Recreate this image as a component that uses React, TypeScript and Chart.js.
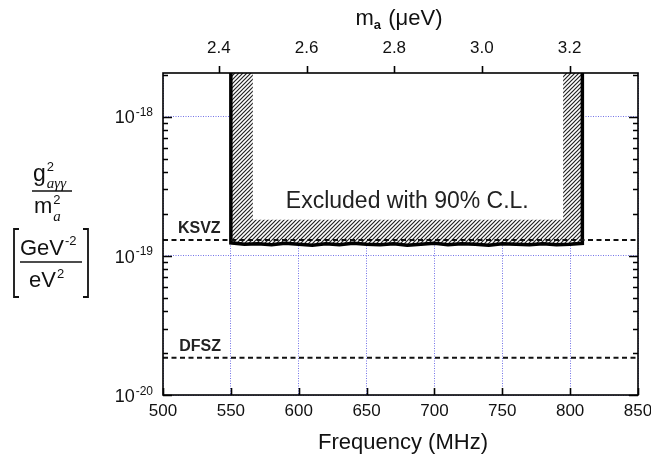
import React, { useEffect, useRef } from 'react';
import { Chart, registerables } from 'chart.js';

Chart.register(...registerables);

const FONT = '"Liberation Sans", Arial, Helvetica, sans-serif';
const SERIF = '"Liberation Serif", "Times New Roman", serif';

// axes
const FREQ_MIN = 500;
const FREQ_MAX = 850;
const FREQ_TICKS = [500, 550, 600, 650, 700, 750, 800, 850];
const MASS_MIN = 2.2725;
const MASS_MAX = 3.356;
const MASS_TICKS = [2.4, 2.6, 2.8, 3.0, 3.2];
const Y_MIN = 1e-20;
const Y_MAX = 2.06e-18;
const Y_DECADES = [-20, -19, -18];

// exclusion limit (90% C.L.)
const LIMIT_FREQ = [550, 560, 570, 580, 590, 600, 610, 620, 630, 640, 650, 660, 670, 680, 690, 700, 710, 720, 730, 740, 750, 760, 770, 780, 790, 800, 809];
const LIMIT_G2 = [1.24e-19, 1.21e-19, 1.22e-19, 1.2e-19, 1.23e-19, 1.21e-19, 1.19e-19, 1.22e-19, 1.2e-19, 1.23e-19, 1.21e-19, 1.2e-19, 1.22e-19, 1.19e-19, 1.21e-19, 1.23e-19, 1.2e-19, 1.22e-19, 1.21e-19, 1.19e-19, 1.22e-19, 1.21e-19, 1.2e-19, 1.22e-19, 1.2e-19, 1.21e-19, 1.23e-19];

// inner (non-hatched) part of the excluded region
const INNER_FREQ = [566, 795];
const INNER_G2 = 1.82e-19;

// model lines
const KSVZ = 1.3e-19;
const DFSZ = 1.85e-20;

// annotation anchors (data units)
const EXCL_LABEL = { x: 680, y: 2.2e-19, text: 'Excluded with 90% C.L.' };
const KSVZ_LABEL = { x: 511, y: 1.46e-19, text: 'KSVZ' };
const DFSZ_LABEL = { x: 512, y: 2.07e-20, text: 'DFSZ' };

const GRID_COLOR = 'rgba(100, 100, 230, 0.9)';

function txt(ctx: CanvasRenderingContext2D, s: string, x: number, y: number, font: string, align: CanvasTextAlign = 'left', color = '#111') {
  ctx.font = font;
  ctx.textAlign = align;
  ctx.textBaseline = 'alphabetic';
  ctx.fillStyle = color;
  ctx.fillText(s, x, y);
  return ctx.measureText(s).width;
}

const decorPlugin = {
  id: 'decor',
  afterDraw(chart: any) {
    const ctx: CanvasRenderingContext2D = chart.ctx;
    const { left, right, top, bottom } = chart.chartArea;
    const xs = chart.scales.x;
    const ys = chart.scales.y;
    const x2 = chart.scales.x2;
    ctx.save();

    // frame
    ctx.strokeStyle = '#000';
    ctx.lineWidth = 1.6;
    ctx.setLineDash([]);
    ctx.strokeRect(left, top, right - left, bottom - top);

    // y ticks (inward, both sides)
    ctx.lineWidth = 1.6;
    ctx.beginPath();
    for (const d of Y_DECADES) {
      for (let k = 1; k <= 9; k++) {
        const v = k * Math.pow(10, d);
        if (v < Y_MIN * 0.999 || v > Y_MAX) continue;
        const py = Math.round(ys.getPixelForValue(v)) + 0.5;
        const len = k === 1 ? 9 : 5;
        ctx.moveTo(left, py); ctx.lineTo(left + len, py);
        ctx.moveTo(right, py); ctx.lineTo(right - len, py);
      }
    }
    // bottom ticks inward
    for (const f of FREQ_TICKS) {
      const px = Math.round(xs.getPixelForValue(f)) + 0.5;
      ctx.moveTo(px, bottom); ctx.lineTo(px, bottom - 7);
    }
    // top ticks outward
    for (const m of MASS_TICKS) {
      const px = Math.round(x2.getPixelForValue(m)) + 0.5;
      ctx.moveTo(px, top); ctx.lineTo(px, top - 7);
    }
    ctx.stroke();

    // y tick labels 10^d
    for (const d of Y_DECADES) {
      const py = ys.getPixelForValue(Math.pow(10, d));
      ctx.font = `12px ${FONT}`;
      const supW = ctx.measureText(String(d)).width;
      const xr = 153;
      txt(ctx, String(d), xr - supW, py - 0.5, `12px ${FONT}`);
      txt(ctx, '10', xr - supW - 1, py + 6.8, `18px ${FONT}`, 'right');
    }

    // top title m_a (µeV)
    {
      ctx.font = `22px ${FONT}`;
      const wm = ctx.measureText('m').width;
      ctx.font = `bold 13px ${FONT}`;
      const wa = ctx.measureText('a').width;
      ctx.font = `22px ${FONT}`;
      const wr = ctx.measureText(' (\u03bceV)').width;
      const total = wm + wa + 1 + wr;
      let x = 399 - total / 2;
      txt(ctx, 'm', x, 25, `22px ${FONT}`); x += wm;
      txt(ctx, 'a', x, 29, `bold 13px ${FONT}`); x += wa + 1;
      txt(ctx, ' (\u03bceV)', x, 25, `22px ${FONT}`);
    }

    // bottom title
    txt(ctx, 'Frequency (MHz)', 403, 449, `22px ${FONT}`, 'center');

    // y title block
    {
      // numerator g^2_{aγγ}
      const wg = txt(ctx, 'g', 33, 181, `23px ${FONT}`);
      txt(ctx, '2', 33 + wg + 1, 171, `13px ${FONT}`);
      txt(ctx, 'a\u03b3\u03b3', 33 + wg + 1, 188, `italic 15px ${SERIF}`);
      ctx.strokeStyle = '#111';
      ctx.lineWidth = 1.4;
      ctx.beginPath();
      ctx.moveTo(32, 191); ctx.lineTo(72, 191);
      ctx.stroke();
      // denominator m^2_a
      const wm = txt(ctx, 'm', 34, 213, `22px ${FONT}`);
      txt(ctx, '2', 34 + wm + 1, 204, `13px ${FONT}`);
      txt(ctx, 'a', 34 + wm + 1, 221, `italic 15px ${SERIF}`);
      // brackets
      ctx.lineWidth = 1.8;
      ctx.beginPath();
      ctx.moveTo(19, 229); ctx.lineTo(14, 229); ctx.lineTo(14, 297); ctx.lineTo(19, 297);
      ctx.moveTo(83, 229); ctx.lineTo(88, 229); ctx.lineTo(88, 297); ctx.lineTo(83, 297);
      ctx.stroke();
      // GeV^-2 / eV^2
      const wG = txt(ctx, 'GeV', 20, 255, `22px ${FONT}`);
      txt(ctx, '-2', 20 + wG + 1, 245, `13px ${FONT}`);
      ctx.lineWidth = 1.4;
      ctx.beginPath();
      ctx.moveTo(20, 262); ctx.lineTo(82, 262);
      ctx.stroke();
      const we = txt(ctx, 'eV', 29, 287, `22px ${FONT}`);
      txt(ctx, '2', 29 + we + 1, 278, `13px ${FONT}`);
    }

    // annotations
    txt(ctx, EXCL_LABEL.text, xs.getPixelForValue(EXCL_LABEL.x), ys.getPixelForValue(EXCL_LABEL.y), `23px ${FONT}`, 'center', '#222');
    txt(ctx, KSVZ_LABEL.text, xs.getPixelForValue(KSVZ_LABEL.x), ys.getPixelForValue(KSVZ_LABEL.y), `bold 16px ${FONT}`, 'left', '#222');
    txt(ctx, DFSZ_LABEL.text, xs.getPixelForValue(DFSZ_LABEL.x), ys.getPixelForValue(DFSZ_LABEL.y), `bold 16px ${FONT}`, 'left', '#222');

    ctx.restore();
  },
};

export default function App() {
  const ref = useRef<HTMLCanvasElement>(null);

  useEffect(() => {
    const canvas = ref.current;
    if (!canvas) return;
    document.body.style.margin = '0';

    // hatch pattern
    const pc = document.createElement('canvas');
    pc.width = 4;
    pc.height = 4;
    const pctx = pc.getContext('2d')!;
    pctx.fillStyle = '#ffffff';
    pctx.fillRect(0, 0, 4, 4);
    pctx.strokeStyle = '#222222';
    pctx.lineWidth = 1.2;
    pctx.beginPath();
    pctx.moveTo(0, 4); pctx.lineTo(4, 0);
    pctx.moveTo(-1, 1); pctx.lineTo(1, -1);
    pctx.moveTo(3, 5); pctx.lineTo(5, 3);
    pctx.stroke();
    const hatch = canvas.getContext('2d')!.createPattern(pc, 'repeat');

    const outline = [
      { x: LIMIT_FREQ[0], y: Y_MAX },
      ...LIMIT_FREQ.map((f, i) => ({ x: f, y: LIMIT_G2[i] })),
      { x: LIMIT_FREQ[LIMIT_FREQ.length - 1], y: Y_MAX },
    ];
    const inner = [
      { x: INNER_FREQ[0], y: Y_MAX },
      { x: INNER_FREQ[0], y: INNER_G2 },
      { x: INNER_FREQ[1], y: INNER_G2 },
      { x: INNER_FREQ[1], y: Y_MAX },
    ];

    const chart = new Chart(canvas, {
      type: 'line',
      data: {
        datasets: [
          {
            label: 'DFSZ',
            data: [{ x: FREQ_MIN, y: DFSZ }, { x: FREQ_MAX, y: DFSZ }],
            borderColor: '#111',
            borderWidth: 2,
            borderDash: [5, 3.5],
            pointRadius: 0,
            fill: false,
            order: 1,
          },
          {
            label: 'KSVZ',
            data: [{ x: FREQ_MIN, y: KSVZ }, { x: FREQ_MAX, y: KSVZ }],
            borderColor: '#111',
            borderWidth: 2,
            borderDash: [5, 3.5],
            pointRadius: 0,
            fill: false,
            order: 2,
          },
          {
            label: 'inner',
            data: inner,
            borderWidth: 0,
            borderColor: 'rgba(0,0,0,0)',
            backgroundColor: '#ffffff',
            pointRadius: 0,
            fill: 'end',
            order: 3,
          },
          {
            label: 'Excluded',
            data: outline,
            borderColor: '#000',
            borderWidth: 3.5,
            backgroundColor: hatch as any,
            pointRadius: 0,
            tension: 0,
            fill: 'end',
            order: 4,
          },
        ],
      },
      options: {
        responsive: false,
        animation: false,
        layout: { padding: { left: 0, right: 13, top: 0, bottom: 0 } },
        plugins: { legend: { display: false }, tooltip: { enabled: false } },
        scales: {
          x: {
            type: 'linear',
            position: 'bottom',
            min: FREQ_MIN,
            max: FREQ_MAX,
            afterBuildTicks: (s: any) => { s.ticks = FREQ_TICKS.map((v) => ({ value: v })); },
            afterFit: (s: any) => { s.height = 64; s.paddingLeft = 0; s.paddingRight = 0; },
            ticks: {
              padding: 6,
              color: '#111',
              font: { family: FONT, size: 17 },
              maxRotation: 0,
              autoSkip: false,
              callback: (v: any) => String(v),
            },
            grid: { color: GRID_COLOR, lineWidth: 1, drawTicks: false },
            border: { display: false, dash: [1, 1.5] },
          },
          x2: {
            type: 'linear',
            position: 'top',
            min: MASS_MIN,
            max: MASS_MAX,
            afterBuildTicks: (s: any) => { s.ticks = MASS_TICKS.map((v) => ({ value: v })); },
            afterFit: (s: any) => { s.height = 73; s.paddingLeft = 0; s.paddingRight = 0; },
            ticks: {
              padding: 14,
              color: '#111',
              font: { family: FONT, size: 17 },
              maxRotation: 0,
              autoSkip: false,
              callback: (v: any) => Number(v).toFixed(1),
            },
            grid: { display: false, drawTicks: false },
            border: { display: false },
          },
          y: {
            type: 'logarithmic',
            position: 'left',
            min: Y_MIN,
            max: Y_MAX,
            afterBuildTicks: (s: any) => { s.ticks = Y_DECADES.map((d) => ({ value: Math.pow(10, d) })); },
            afterFit: (s: any) => { s.width = 163; s.paddingTop = 0; s.paddingBottom = 0; },
            ticks: { display: false },
            grid: { color: GRID_COLOR, lineWidth: 1, drawTicks: false },
            border: { display: false, dash: [1, 1.5] },
          },
        },
      },
      plugins: [decorPlugin],
    });

    return () => chart.destroy();
  }, []);

  return (
    <div style={{ position: 'absolute', left: 0, top: 0, width: 651, height: 459, background: '#fff' }}>
      <canvas ref={ref} width={651} height={459} style={{ display: 'block' }} />
    </div>
  );
}
